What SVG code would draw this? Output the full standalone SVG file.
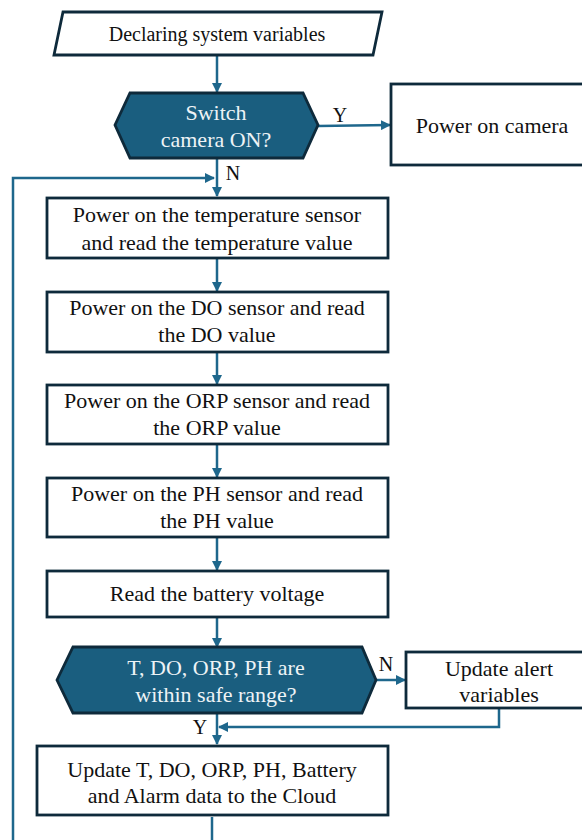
<svg xmlns="http://www.w3.org/2000/svg" width="582" height="840" viewBox="0 0 582 840">
<style>
.box{fill:#fff;stroke:#0e2a3b;stroke-width:2.8}
.hex{fill:#1a5e7f;stroke:#0e2a3b;stroke-width:2.8}
.t{font-size:22px;fill:#111;text-anchor:middle}
.l{font-size:20px;fill:#111;text-anchor:middle}
.tw{font-size:22px;fill:#eef3f6;text-anchor:middle}
.c{fill:none;stroke:#1e678c;stroke-width:2.5}
</style>
<defs>
<marker id="ah" viewBox="0 0 10 10" refX="9" refY="5" markerWidth="4" markerHeight="4" orient="auto" markerUnits="strokeWidth">
<path d="M0,0 L10,5 L0,10 z" fill="#1e678c"/>
</marker>
</defs>
<rect width="582" height="840" fill="#fff"/>
<g font-family="Liberation Serif, Times New Roman, serif">
<g id="connectors">
<line class="c" x1="217" y1="56" x2="217" y2="92" marker-end="url(#ah)"/>
<line class="c" x1="318" y1="126" x2="390" y2="125" marker-end="url(#ah)"/>
<line class="c" x1="217" y1="158" x2="217" y2="196" marker-end="url(#ah)"/>
<polyline class="c" points="13,840 13,178 214,178" marker-end="url(#ah)"/>
<line class="c" x1="217" y1="259" x2="217" y2="291" marker-end="url(#ah)"/>
<line class="c" x1="217" y1="352" x2="217" y2="384" marker-end="url(#ah)"/>
<line class="c" x1="217" y1="445" x2="217" y2="477" marker-end="url(#ah)"/>
<line class="c" x1="217" y1="538" x2="217" y2="570" marker-end="url(#ah)"/>
<line class="c" x1="217" y1="617" x2="217" y2="647" marker-end="url(#ah)"/>
<line class="c" x1="376" y1="680" x2="405" y2="680" marker-end="url(#ah)"/>
<line class="c" x1="217" y1="714" x2="217" y2="744" marker-end="url(#ah)"/>
<polyline class="c" points="499,709 499,727 219,727" marker-end="url(#ah)"/>
<line class="c" x1="212" y1="817" x2="212" y2="840"/>
<text class="l" x="340" y="122">Y</text>
<text class="l" x="233" y="180">N</text>
<text class="l" x="386" y="671">N</text>
<text class="l" x="200" y="734">Y</text>
</g>
<g id="declare">
<polygon class="box" points="63,12 382,12 373,55 54,55"/>
<text class="l" x="217" y="41">Declaring system variables</text>
</g>
<g id="switch-camera">
<polygon class="hex" points="115,125 130,93 303,93 318,125 303,158 130,158"/>
<text class="tw" x="216" y="120">Switch</text>
<text class="tw" x="216" y="147">camera ON?</text>
</g>
<g id="power-camera">
<rect class="box" x="391" y="84" width="194" height="81"/>
<text class="t" x="492" y="133">Power on camera</text>
</g>
<g id="temp">
<rect class="box" x="47" y="198" width="341" height="60"/>
<text class="t" x="217" y="222">Power on the temperature sensor</text>
<text class="t" x="217" y="250">and read the temperature value</text>
</g>
<g id="do">
<rect class="box" x="47" y="292" width="341" height="60"/>
<text class="t" x="217" y="315">Power on the DO sensor and read</text>
<text class="t" x="217" y="342">the DO value</text>
</g>
<g id="orp">
<rect class="box" x="47" y="385" width="341" height="59"/>
<text class="t" x="217" y="408">Power on the ORP sensor and read</text>
<text class="t" x="217" y="435">the ORP value</text>
</g>
<g id="ph">
<rect class="box" x="47" y="478" width="341" height="59"/>
<text class="t" x="217" y="501">Power on the PH sensor and read</text>
<text class="t" x="217" y="528">the PH value</text>
</g>
<g id="battery">
<rect class="box" x="47" y="571" width="341" height="46"/>
<text class="t" x="217" y="601">Read the battery voltage</text>
</g>
<g id="safe-range">
<polygon class="hex" points="57,680 73,647 362,647 376,680 362,713 73,713"/>
<text class="tw" x="216" y="675">T, DO, ORP, PH are</text>
<text class="tw" x="216" y="702">within safe range?</text>
</g>
<g id="alert">
<rect class="box" x="406" y="652" width="180" height="56"/>
<text class="t" x="499" y="676">Update alert</text>
<text class="t" x="499" y="702">variables</text>
</g>
<g id="cloud">
<rect class="box" x="37" y="746" width="351" height="69"/>
<text class="t" x="212" y="777">Update T, DO, ORP, PH, Battery</text>
<text class="t" x="212" y="803">and Alarm data to the Cloud</text>
</g>
</g>
</svg>
